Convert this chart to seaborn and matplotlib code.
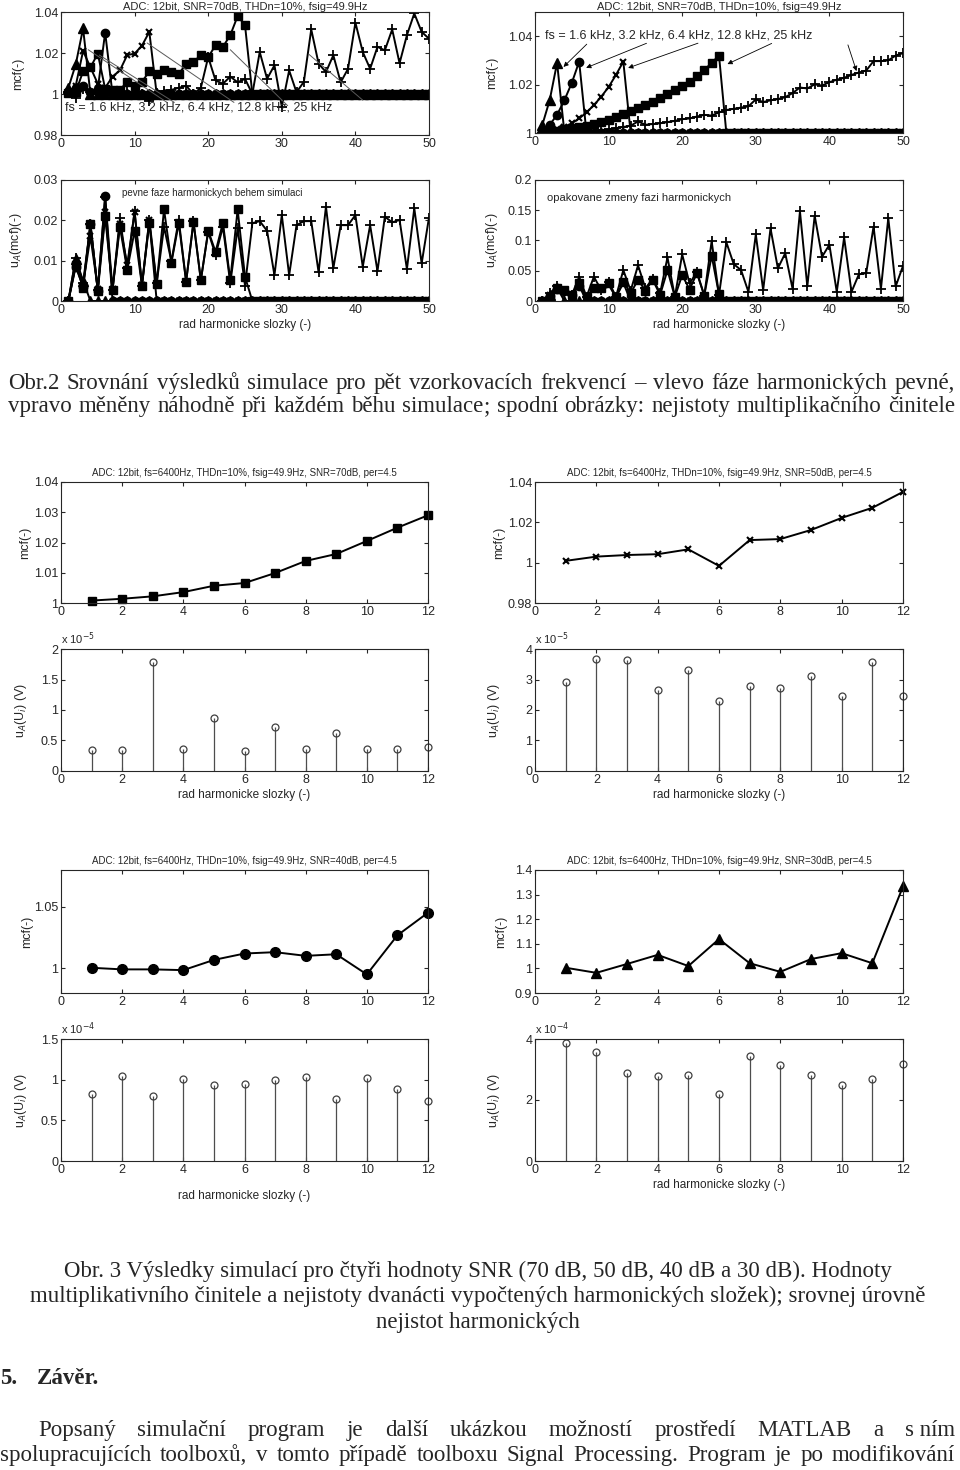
import numpy as np
import pandas as pd
import matplotlib
matplotlib.use("Agg")
import matplotlib.pyplot as plt
import seaborn as sns
from matplotlib.ticker import FuncFormatter

# ==========================================
# Data
# ==========================================

harm50 = np.arange(1, 51)
harm12 = np.arange(1, 13)
fs_labels = ["1.6 kHz", "3.2 kHz", "6.4 kHz", "12.8 kHz", "25 kHz"]

# mcf, fixed harmonic phases (top left)
fix_mcf_16 = [1.003, 1.0144, 1.032]
fix_mcf_32 = [1.001, 1.003, 1.004, 1.001, 1.0025, 1.030]
fix_mcf_64 = [1.001, 1.004, 1.021, 1.013, 1.005, 1.003, 1.0085, 1.0115, 1.019,
              1.0197, 1.0236, 1.0303]
fix_mcf_128 = [1.0005, 1.001, 1.011, 1.013, 1.0197, 1.0025, 1.002, 1.002, 1.006,
               1.004, 1.006, 1.011, 1.010, 1.0115, 1.0107, 1.010, 1.0144, 1.0156,
               1.019, 1.018, 1.0238, 1.023, 1.0287, 1.038, 1.0336]
fix_mcf_25 = [1.001, 0.998, 1.0025, 1.001, 1.0, 1.0005, 1.001, 1.0015, 1.001, 1.0005,
              1.0, 0.9967, 1.0005, 1.0016, 1.002, 1.003, 1.004, 1.0, 1.003, 1.018,
              1.0066, 1.005, 1.0085, 1.0057, 1.0074, 1.0, 1.0205, 1.0074, 1.014, 0.9938,
              1.0115, 1.0008, 1.006, 1.0315, 1.0148, 1.0107, 1.0189, 1.0057, 1.0123, 1.0348,
              1.0205, 1.0123, 1.023, 1.0213, 1.0315, 1.015, 1.0287, 1.0393, 1.0303, 1.027]

# mcf, random harmonic phases (top right)
rnd_mcf_16 = [1.0034, 1.0136, 1.029]
rnd_mcf_32 = [1.001, 1.0034, 1.0075, 1.0136, 1.0207, 1.0295]
rnd_mcf_64 = [1.0003, 1.0008, 1.0015, 1.0025, 1.004, 1.006, 1.0085, 1.0115, 1.015,
              1.019, 1.024, 1.0295]
rnd_mcf_128 = [1.0003, 1.0006, 1.001, 1.0015, 1.002, 1.0025, 1.003, 1.0037, 1.0045,
               1.0055, 1.0065, 1.0078, 1.009, 1.0103, 1.0117, 1.013, 1.0145, 1.016,
               1.0177, 1.0195, 1.021, 1.0235, 1.026, 1.029, 1.032]
rnd_mcf_25 = [1.0002, 1.0003, 1.0003, 1.0004, 1.0005, 1.0006, 1.0008, 1.001, 1.0012, 1.0015,
              1.002, 1.0025, 1.003, 1.0048, 1.0034, 1.0037, 1.004, 1.0045, 1.005, 1.0057,
              1.006, 1.0068, 1.0075, 1.0072, 1.0085, 1.0095, 1.01, 1.0105, 1.011, 1.0139,
              1.0128, 1.0135, 1.014, 1.0148, 1.0165, 1.0188, 1.0184, 1.0201, 1.0196, 1.021,
              1.022, 1.0228, 1.024, 1.025, 1.0258, 1.0297, 1.0297, 1.030, 1.032, 1.033]

# uncertainty of mcf, fixed phases
fix_ua_16 = [0, 0.0105, 0.005]
fix_ua_32 = [0, 0.0085, 0.0035, 0.019, 0.0025, 0.026]
fix_ua_64 = [0, 0.009, 0.004, 0.016, 0.003, 0.022, 0.003, 0.019, 0.009, 0.022, 0.004, 0.020]
fix_ua_128 = [0, 0.009, 0.0033, 0.019, 0.0025, 0.021, 0.0027, 0.0184, 0.0077, 0.0174,
              0.0038, 0.0193, 0.0042, 0.0227, 0.0095, 0.0193, 0.0048, 0.0195, 0.0051, 0.0174,
              0.0122, 0.0194, 0.0052, 0.0227, 0.006]
fix_ua_25 = [0, 0.0106, 0.0044, 0.019, 0.0027, 0.0259, 0.0027, 0.0205, 0.0081, 0.0223,
             0.0038, 0.0202, 0.0044, 0.0184, 0.0098, 0.0202, 0.0048, 0.0198, 0.0052, 0.0172,
             0.0114, 0.0184, 0.0044, 0.018, 0.0038, 0.0193, 0.0198, 0.0174, 0.0064, 0.0213,
             0.0064, 0.0188, 0.0198, 0.0198, 0.0071, 0.0234, 0.0081, 0.0188, 0.0188, 0.0213,
             0.0085, 0.0188, 0.0074, 0.0209, 0.0195, 0.0201, 0.0079, 0.023, 0.0093, 0.0207]

# uncertainty of mcf, random phases
rnd_ua_16 = [0, 0.01, 0.022]
rnd_ua_32 = [0, 0.008, 0.02, 0.016, 0.01, 0.025]
rnd_ua_64 = [0, 0.01, 0.022, 0.017, 0.01, 0.028, 0.006, 0.022, 0.02, 0.027, 0.006, 0.03]
rnd_ua_128 = [0, 0.007, 0.021, 0.018, 0.01, 0.029, 0.007, 0.021, 0.021, 0.029,
              0.007, 0.032, 0.013, 0.035, 0.017, 0.035, 0.01, 0.051, 0.007, 0.043,
              0.019, 0.046, 0.009, 0.075, 0.011]
rnd_ua_25 = [0, 0.013, 0.024, 0.015, 0.01, 0.04, 0.007, 0.04, 0.018, 0.032,
             0.007, 0.051, 0.017, 0.059, 0.021, 0.037, 0.013, 0.072, 0.007, 0.077,
             0.029, 0.048, 0.009, 0.099, 0.01, 0.097, 0.061, 0.051, 0.015, 0.11,
             0.018, 0.12, 0.054, 0.079, 0.02, 0.148, 0.024, 0.141, 0.073, 0.093,
             0.015, 0.105, 0.015, 0.044, 0.046, 0.123, 0.02, 0.137, 0.024, 0.058]

# Fig. 3: mcf for SNR 70/50/40/30 dB
mcf_snr70 = [1.0008, 1.0014, 1.0022, 1.0036, 1.0057, 1.0066, 1.0099, 1.0139, 1.0162, 1.0205, 1.0249, 1.029]
mcf_snr50 = [1.0009, 1.003, 1.0038, 1.0042, 1.0066, 0.9984, 1.0112, 1.0117, 1.0162, 1.0222, 1.0272, 1.0351]
mcf_snr40 = [1.0005, 0.9992, 0.9992, 0.9986, 1.0069, 1.0121, 1.0132, 1.0102, 1.0115, 0.9951, 1.0269, 1.0453]
mcf_snr30 = [1.0027, 0.982, 1.018, 1.055, 1.0096, 1.119, 1.021, 0.986, 1.038, 1.062, 1.021, 1.333]

# uncertainties of harmonics (shown in units of the exponent)
ua_snr70 = [0.344, 0.339, 1.79, 0.36, 0.863, 0.328, 0.72, 0.355, 0.628, 0.355, 0.355, 0.388]   # x1e-5
ua_snr50 = [2.93, 3.67, 3.63, 2.66, 3.32, 2.28, 2.78, 2.72, 3.10, 2.45, 3.57, 2.45]            # x1e-5
ua_snr40 = [0.824, 1.049, 0.799, 1.008, 0.93, 0.951, 1.0, 1.033, 0.766, 1.02, 0.885, 0.738]    # x1e-4
ua_snr30 = [3.88, 3.59, 2.88, 2.78, 2.82, 2.21, 3.43, 3.16, 2.82, 2.48, 2.70, 3.18]            # x1e-4

# ==========================================
# Style
# ==========================================

W, H = 960, 1470
sns.set_style("ticks")
plt.rcParams["font.family"] = ["Liberation Sans", "DejaVu Sans"]
plt.rcParams["xtick.direction"] = "in"
plt.rcParams["ytick.direction"] = "in"
plt.rcParams["xtick.top"] = True
plt.rcParams["ytick.right"] = True
plt.rcParams["axes.linewidth"] = 0.8
plt.rcParams["xtick.major.size"] = 3
plt.rcParams["ytick.major.size"] = 3
plt.rcParams["xtick.labelsize"] = 9
plt.rcParams["ytick.labelsize"] = 9

fig = plt.figure(figsize=(W / 100, H / 100), dpi=100)
fmt = FuncFormatter(lambda v, p: f"{v:g}")


def add_ax(l, t, r, b):
    return fig.add_axes([l / W, 1 - b / H, (r - l) / W, (b - t) / H])


def pad(vals, fill, n=50):
    vals = list(vals)
    return vals + [fill] * (n - len(vals))


def mcf_lines(ax, series, fill):
    styles = [("^", 7, 1.0), ("o", 6, 1.0), ("x", 5, 1.5), ("s", 6, 1.0), ("+", 7, 1.3)]
    for vals, (mk, ms, mew) in zip(series, styles):
        df = pd.DataFrame({"n": harm50, "v": pad(vals, fill)})
        sns.lineplot(data=df, x="n", y="v", ax=ax, color="k", linewidth=1.4,
                     marker=mk, markersize=ms, markeredgecolor="k",
                     markeredgewidth=mew, markerfacecolor="k")


def finish(ax, xlim, xticks, ylim, yticks, ylabel, ylab_x, xlabel=None):
    ax.set_xlim(*xlim)
    ax.set_xticks(xticks)
    ax.set_ylim(*ylim)
    ax.set_yticks(yticks)
    ax.xaxis.set_major_formatter(fmt)
    ax.yaxis.set_major_formatter(fmt)
    ax.set_ylabel(ylabel, fontsize=9)
    ax.yaxis.set_label_coords(ylab_x, 0.5)
    if xlabel:
        ax.set_xlabel(xlabel, fontsize=8.5, labelpad=2)
    else:
        ax.set_xlabel("")
    ax.tick_params(pad=2)


xlab = "rad harmonicke slozky (-)"

# ==========================================
# Obr. 2
# ==========================================

ax = add_ax(61, 12, 429, 135)
mcf_lines(ax, [fix_mcf_16, fix_mcf_32, fix_mcf_64, fix_mcf_128, fix_mcf_25], 1.0)
for (x0, y0), (x1, y1) in [((3.7, 1.0216), (14.4, 0.9959)), ((5.2, 1.019), (15.4, 0.9959)),
                           ((11.7, 1.0249), (23.5, 0.9959)), ((23.0, 1.0216), (30.8, 0.9943)),
                           ((33.7, 1.0193), (41.0, 0.997))]:
    ax.plot([x0, x1], [y0, y1], color="0.35", lw=0.7)
ax.text(0.55, 0.9934, "fs = " + ", ".join(fs_labels), fontsize=9, va="center")
ax.set_title("ADC: 12bit, SNR=70dB, THDn=10%, fsig=49.9Hz", fontsize=8, pad=1)
finish(ax, (0, 50), range(0, 51, 10), (0.98, 1.04), [0.98, 1, 1.02, 1.04], "mcf(-)", -0.10)

ax = add_ax(535, 12, 903, 133)
mcf_lines(ax, [rnd_mcf_16, rnd_mcf_32, rnd_mcf_64, rnd_mcf_128, rnd_mcf_25], 1.0)
ax.text(1.4, 1.0402, "fs = " + ", ".join(fs_labels), fontsize=9, va="center")
for (x0, y0), (x1, y1) in [((7.3, 1.0375), (3.6, 1.0265)), ((15.5, 1.0375), (6.6, 1.0265)),
                           ((22.5, 1.0375), (12.3, 1.0265)), ((32.5, 1.0375), (25.8, 1.028)),
                           ((42.4, 1.0375), (43.8, 1.0245))]:
    ax.annotate("", xy=(x1, y1), xytext=(x0, y0),
                arrowprops=dict(arrowstyle="-|>", color="k", lw=0.6, mutation_scale=7))
ax.set_title("ADC: 12bit, SNR=70dB, THDn=10%, fsig=49.9Hz", fontsize=8, pad=1)
finish(ax, (0, 50), range(0, 51, 10), (1.0, 1.05), [1, 1.02, 1.04], "mcf(-)", -0.10)

ax = add_ax(61, 180, 429, 301)
mcf_lines(ax, [fix_ua_16, fix_ua_32, fix_ua_64, fix_ua_128, fix_ua_25], 0.0)
ax.text(8.3, 0.0267, "pevne faze harmonickych behem simulaci", fontsize=7, va="center")
finish(ax, (0, 50), range(0, 51, 10), (0, 0.03), [0, 0.01, 0.02, 0.03],
       r"u$_A$(mcf)(-)", -0.10, xlab)

ax = add_ax(535, 180, 903, 301)
mcf_lines(ax, [rnd_ua_16, rnd_ua_32, rnd_ua_64, rnd_ua_128, rnd_ua_25], 0.0)
ax.text(1.6, 0.17, "opakovane zmeny fazi harmonickych", fontsize=8, va="center")
finish(ax, (0, 50), range(0, 51, 10), (0, 0.2), [0, 0.05, 0.1, 0.15, 0.2],
       r"u$_A$(mcf)(-)", -0.095, xlab)

# ==========================================
# Obr. 3
# ==========================================

title3 = "ADC: 12bit, fs=6400Hz, THDn=10%, fsig=49.9Hz, SNR={}dB, per=4.5"


def mcf12(ax, vals, mk, ms, mew, snr):
    df = pd.DataFrame({"n": harm12, "v": vals})
    sns.lineplot(data=df, x="n", y="v", ax=ax, color="k", linewidth=1.4, marker=mk,
                 markersize=ms, markeredgecolor="k", markeredgewidth=mew,
                 markerfacecolor="k", clip_on=False)
    ax.set_title(title3.format(snr), fontsize=7, pad=4)


def stem12(ax, vals, expo):
    ml, sl, bl = ax.stem(harm12, vals, basefmt=" ")
    plt.setp(ml, marker="o", markersize=5, markerfacecolor="none",
             markeredgecolor="0.25", markeredgewidth=0.9, clip_on=False)
    plt.setp(sl, color="0.3", linewidth=0.9)
    ax.text(0.0, 1.02, r"x 10$^{%d}$" % expo, transform=ax.transAxes,
            fontsize=8, va="bottom")


ax = add_ax(61, 482, 428, 603)
mcf12(ax, mcf_snr70, "s", 6, 1.0, 70)
finish(ax, (0, 12), range(0, 13, 2), (1.0, 1.04), [1, 1.01, 1.02, 1.03, 1.04], "mcf(-)", -0.08)

ax = add_ax(535, 482, 903, 603)
mcf12(ax, mcf_snr50, "x", 4, 1.5, 50)
finish(ax, (0, 12), range(0, 13, 2), (0.98, 1.04), [0.98, 1, 1.02, 1.04], "mcf(-)", -0.08)

ax = add_ax(61, 649, 428, 771)
stem12(ax, ua_snr70, -5)
finish(ax, (0, 12), range(0, 13, 2), (0, 2), [0, 0.5, 1, 1.5, 2],
       r"u$_A$(U$_i$) (V)", -0.087, xlab)

ax = add_ax(535, 649, 903, 771)
stem12(ax, ua_snr50, -5)
finish(ax, (0, 12), range(0, 13, 2), (0, 4), [0, 1, 2, 3, 4],
       r"u$_A$(U$_i$) (V)", -0.09, xlab)

ax = add_ax(61, 870, 428, 993)
mcf12(ax, mcf_snr40, "o", 7, 1.0, 40)
finish(ax, (0, 12), range(0, 13, 2), (0.98, 1.08), [1, 1.05], "mcf(-)", -0.075)

ax = add_ax(535, 870, 903, 993)
mcf12(ax, mcf_snr30, "^", 7, 1.0, 30)
finish(ax, (0, 12), range(0, 13, 2), (0.9, 1.4), [0.9, 1, 1.1, 1.2, 1.3, 1.4], "mcf(-)", -0.075)

ax = add_ax(61, 1039, 428, 1161)
stem12(ax, ua_snr40, -4)
finish(ax, (0, 12), range(0, 13, 2), (0, 1.5), [0, 0.5, 1, 1.5],
       r"u$_A$(U$_i$) (V)", -0.087)
ax.set_xlabel(xlab, fontsize=8.5, labelpad=10)

ax = add_ax(535, 1039, 903, 1161)
stem12(ax, ua_snr30, -4)
finish(ax, (0, 12), range(0, 13, 2), (0, 4), [0, 2, 4],
       r"u$_A$(U$_i$) (V)", -0.09, xlab)

# ==========================================
# Page text
# ==========================================

serif = ["Liberation Serif", "DejaVu Serif"]
renderer = fig.canvas.get_renderer()
FS = 16.5


def justify(line, x0, x1, y, **kw):
    # words separated by "|" (or spaces); each word is split into a body and
    # a trailing ";" so all glyphs share one baseline
    words = line.split("|") if "|" in line else line.split(" ")
    groups = []
    for w in words:
        parts = [w[:-1], ";"] if w.endswith(";") else [w]
        texts = [fig.text(0, 1 - y / H, p, va="baseline", **kw) for p in parts]
        widths = [t.get_window_extent(renderer).width for t in texts]
        groups.append((texts, widths))
    total = sum(sum(ws) for _, ws in groups)
    gap = (x1 - x0 - total) / max(len(groups) - 1, 1)
    x = x0
    for texts, widths in groups:
        for t, w in zip(texts, widths):
            t.set_x(x / W)
            x += w
        x += gap


justify("Obr.2 Srovnání výsledků simulace pro pět vzorkovacích frekvencí – vlevo fáze harmonických pevné,",
        8, 955, 389, family=serif, fontsize=FS)
justify("vpravo měněny náhodně při každém běhu simulace; spodní obrázky: nejistoty multiplikačního činitele",
        8, 955, 412, family=serif, fontsize=FS)

for y, line in [(1277, "Obr. 3 Výsledky simulací pro čtyři hodnoty SNR (70 dB, 50 dB, 40 dB a 30 dB). Hodnoty"),
                (1302, "multiplikativního činitele a nejistoty dvanácti vypočtených harmonických složek); srovnej úrovně"),
                (1328, "nejistot harmonických")]:
    fig.text(478 / W, 1 - y / H, line, family=serif, fontsize=FS, ha="center", va="baseline")

fig.text(0 / W, 1 - 1384 / H, "5.", family=serif, fontsize=FS, weight="bold", va="baseline")
fig.text(37 / W, 1 - 1384 / H, "Závěr.", family=serif, fontsize=FS, weight="bold", va="baseline")

justify("Popsaný|simulační|program|je|další|ukázkou|možností|prostředí|MATLAB|a|s ním",
        38, 955, 1436, family=serif, fontsize=FS)
justify("spolupracujících toolboxů, v tomto případě toolboxu Signal Processing. Program je po modifikování",
        0, 955, 1461, family=serif, fontsize=FS)

fig.savefig("out.png", dpi=100, facecolor="white")
